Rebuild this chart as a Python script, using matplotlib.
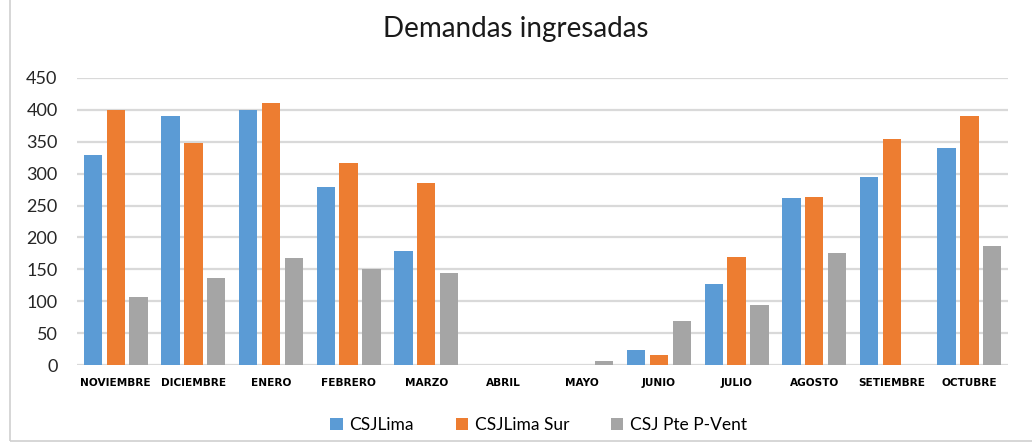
import numpy as np
import matplotlib
matplotlib.use("Agg")
from matplotlib import pyplot as plt
from matplotlib.patches import Rectangle

meses = ["NOVIEMBRE", "DICIEMBRE", "ENERO", "FEBRERO", "MARZO", "ABRIL",
         "MAYO", "JUNIO", "JULIO", "AGOSTO", "SETIEMBRE", "OCTUBRE"]
csj_lima = [330, 390, 400, 279, 179, 0, 0, 24, 127, 262, 294, 341]
csj_lima_sur = [400, 348, 410, 317, 285, 0, 0, 16, 170, 264, 354, 390]
csj_pte = [107, 136, 168, 151, 144, 0, 6, 69, 94, 175, 0, 187]

series = [("CSJLima", csj_lima, "#5b9bd5"),
          ("CSJLima Sur", csj_lima_sur, "#ed7d31"),
          ("CSJ Pte P-Vent", csj_pte, "#a5a5a5")]

plt.rcParams["font.family"] = ["Lato", "DejaVu Sans"]

fig = plt.figure(figsize=(10.32, 4.43), dpi=100)
ax = fig.add_axes([0.0746, 0.176, 0.9024, 0.648])

x = np.arange(len(meses))
step = 0.294
width = 0.236
for i, (nombre, vals, color) in enumerate(series):
    ax.bar(x + (i - 1) * step, vals, width, color=color, label=nombre, zorder=3)

ax.set_xlim(-0.5, len(meses) - 0.5)
ax.set_ylim(0, 450)
ax.set_yticks(range(0, 451, 50))
ax.yaxis.grid(True, color="#d9d9d9", linewidth=1.6, zorder=0)
for s in ax.spines.values():
    s.set_visible(False)
ax.tick_params(axis="both", length=0)
ax.tick_params(axis="y", labelsize=13, pad=14, labelcolor="#262626")
ax.set_xticks(x)
ax.set_xticklabels(meses, fontsize=7.6, fontweight="bold",
                   family=["DejaVu Sans Condensed", "DejaVu Sans"])
ax.tick_params(axis="x", pad=9)

fig.suptitle("Demandas ingresadas", fontsize=20, y=0.965, color="#1a1a1a")

fig.legend(loc="center", bbox_to_anchor=(0.522, 0.04), ncol=3, frameon=False,
           fontsize=12.5, handlelength=0.7, handleheight=0.7, columnspacing=2.4,
           handletextpad=0.4)

fig.patches.append(Rectangle((0.01, 0.005), 1.2, 1.2, transform=fig.transFigure,
                             fill=False, edgecolor="#d0d0d0", linewidth=1.2))

fig.savefig("out.png", dpi=100)
